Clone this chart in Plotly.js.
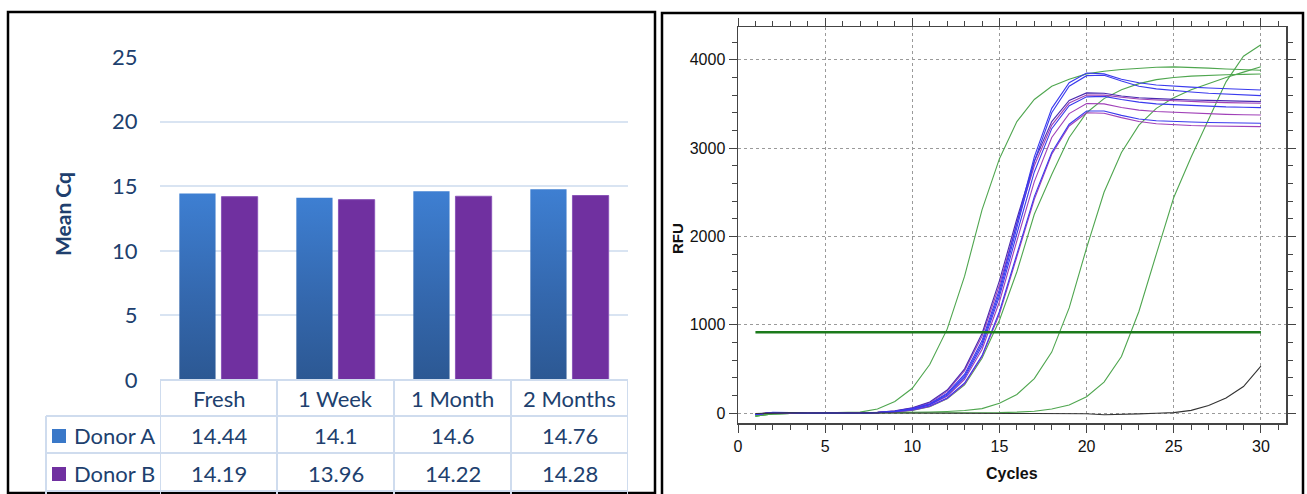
<!DOCTYPE html>
<html>
<head>
<meta charset="utf-8">
<script src="https://cdn.plot.ly/plotly-3.0.1.min.js"></script>
<style>
  html, body { margin:0; padding:0; background:#fff; }
  #chart { width:1307px; height:494px; }
</style>
</head>
<body>
<div id="chart"></div>
<script>
// ---------------- Left chart data ----------------
const categories = ['Fresh', '1 Week', '1 Month', '2 Months'];
const donorA = [14.44, 14.1, 14.6, 14.76];
const donorB = [14.19, 13.96, 14.22, 14.28];
const seriesNames = ['Donor A', 'Donor B'];

// ---------------- Right chart data (RFU vs cycles) ----------------
const cycles = [1,2,3,4,5,6,7,8,9,10,11,12,13,14,15,16,17,18,19,20,21,22,23,24,25,26,27,28,29,30];
const curveP1 = [-15,5,3,-3,2,0,-2,8,25,60,125,260,500,900,1500,2200,2850,3300,3540,3625,3620,3590,3570,3560,3550,3545,3540,3535,3530,3526];
const curveP2 = [-12,4,2,-2,3,1,-2,7,22,55,115,245,480,870,1450,2150,2800,3260,3510,3600,3600,3575,3555,3545,3535,3525,3520,3515,3510,3507];
const curveB1 = [-18,6,4,-4,1,0,-4,6,20,50,105,225,440,820,1400,2150,2900,3450,3740,3850,3840,3780,3740,3715,3700,3690,3680,3670,3665,3658];
const curveB2 = [-16,5,4,-3,2,-1,-3,5,18,45,100,215,420,790,1360,2100,2850,3400,3700,3820,3825,3760,3700,3670,3650,3635,3620,3610,3600,3594];
const curveB3 = [-14,6,3,-2,1,0,-3,5,17,42,95,200,400,760,1320,2030,2730,3220,3480,3580,3585,3550,3520,3500,3490,3480,3472,3466,3462,3458];
const curveP3 = [-13,4,2,-3,2,0,-2,5,16,40,90,190,380,720,1260,1950,2620,3120,3390,3505,3500,3460,3430,3415,3405,3395,3388,3382,3378,3375];
const curveB4 = [-17,7,4,-4,2,-1,-3,4,14,35,80,170,340,650,1150,1800,2450,2950,3270,3420,3420,3370,3330,3310,3300,3295,3290,3286,3283,3281];
const curveP4 = [-15,5,3,-3,1,0,-2,4,13,33,75,165,330,640,1120,1780,2420,2930,3250,3400,3395,3345,3300,3275,3262,3255,3250,3247,3245,3243];
const curveG1 = [-35,-10,-5,0,2,3,10,45,130,280,550,950,1550,2300,2880,3300,3550,3700,3780,3840,3870,3890,3905,3915,3920,3915,3905,3895,3888,3882];
const curveG2 = [-35,-10,-5,0,1,2,3,5,12,30,70,160,320,620,1050,1600,2250,2700,3120,3400,3560,3660,3730,3775,3800,3815,3825,3830,3835,3838];
const curveG3 = [-35,-10,-5,0,0,1,2,3,5,8,12,18,28,50,110,210,390,690,1190,1870,2500,2950,3260,3450,3570,3660,3730,3800,3860,3920];
const curveG4 = [-30,-8,-4,0,0,0,1,1,2,2,3,3,4,4,5,10,20,45,90,185,350,640,1150,1800,2440,2900,3330,3750,4040,4170];
const curveNTC = [-5,0,2,0,-2,0,1,0,0,-2,-3,-2,-4,-5,-8,-6,-5,-5,-6,-8,-20,-18,-10,-3,5,30,85,170,300,530];
const threshold = 915;

// ---------------- helpers ----------------
const W = 1307, H = 494;
const px = v => v / W;
const py = v => 1 - v / H;

const navy = '#203F6E';
const blueA = '#3A78C8';
const purpleB = '#7030A0';
const tableLine = '#CFDCEE';
const leftFont = {family: 'Lato, "Open Sans", sans-serif', size: 22, color: navy};
const rightFont = {family: '"Liberation Sans", Arial, sans-serif', size: 16, color: '#111'};

const traces = [];
// bars
traces.push({type: 'bar', x: categories, y: donorA, name: seriesNames[0], xaxis: 'x', yaxis: 'y',
  marker: {color: blueA}, hoverinfo: 'skip'});
traces.push({type: 'bar', x: categories, y: donorB, name: seriesNames[1], xaxis: 'x', yaxis: 'y',
  marker: {color: purpleB, line: {color: '#8A55B8', width: 1}}, hoverinfo: 'skip'});

// amplification curves
const greenC = '#4FA64F';
const blueC = '#3A3AEE';
const purpleC = '#A040B8';
const deepC = '#4A2AB0';
const curveDefs = [
  [curveG1, greenC], [curveG2, greenC], [curveG3, greenC], [curveG4, greenC],
  [curveP4, purpleC], [curveB4, blueC], [curveP3, purpleC], [curveB3, blueC],
  [curveP2, purpleC], [curveP1, deepC], [curveB2, blueC], [curveB1, blueC],
  [curveNTC, '#333333']
];
curveDefs.forEach(([ys, c]) => {
  traces.push({type: 'scatter', mode: 'lines', x: cycles, y: ys, xaxis: 'x2', yaxis: 'y2',
    line: {color: c, width: 1.1}, hoverinfo: 'skip'});
});
traces.push({type: 'scatter', mode: 'lines', x: [cycles[0], cycles[cycles.length - 1]],
  y: [threshold, threshold], xaxis: 'x2', yaxis: 'y2',
  line: {color: '#1B7A1B', width: 2.5}, hoverinfo: 'skip'});

// ---------------- shapes ----------------
const shapes = [];
// frames
shapes.push({type: 'rect', xref: 'paper', yref: 'paper', x0: px(8), x1: px(655), y0: py(493), y1: py(12),
  line: {color: '#000', width: 2.5}});
shapes.push({type: 'rect', xref: 'paper', yref: 'paper', x0: px(662), x1: px(1303), y0: -0.05, y1: py(13),
  line: {color: '#000', width: 2.5}});
// table horizontal lines
shapes.push({type: 'line', xref: 'paper', yref: 'paper', x0: px(160), x1: px(628), y0: py(380), y1: py(380), line: {color: tableLine, width: 2}});
[416, 453, 491].forEach(yy => {
  shapes.push({type: 'line', xref: 'paper', yref: 'paper', x0: px(46), x1: px(628), y0: py(yy), y1: py(yy), line: {color: tableLine, width: 2}});
});
// table vertical lines at category boundaries
for (let i = 0; i <= categories.length; i++) {
  shapes.push({type: 'line', xref: 'x', yref: 'paper', x0: i - 0.5, x1: i - 0.5, y0: py(380), y1: py(494), line: {color: tableLine, width: 2}});
}
shapes.push({type: 'line', xref: 'paper', yref: 'paper', x0: px(46), x1: px(46), y0: py(416), y1: py(494), line: {color: tableLine, width: 2}});
// legend keys
shapes.push({type: 'rect', xref: 'paper', yref: 'paper', x0: px(52), x1: px(66), y0: py(443), y1: py(429), fillcolor: blueA, line: {width: 0}});
shapes.push({type: 'rect', xref: 'paper', yref: 'paper', x0: px(52), x1: px(66), y0: py(481), y1: py(467), fillcolor: purpleB, line: {width: 0}});

// ---------------- annotations ----------------
const annotations = [];
categories.forEach((c, i) => {
  annotations.push({xref: 'x', yref: 'paper', x: c, y: py(398), text: c, showarrow: false, font: leftFont, xanchor: 'center', yanchor: 'middle'});
  annotations.push({xref: 'x', yref: 'paper', x: c, y: py(435), text: String(donorA[i]), showarrow: false, font: leftFont, xanchor: 'center', yanchor: 'middle'});
  annotations.push({xref: 'x', yref: 'paper', x: c, y: py(473), text: String(donorB[i]), showarrow: false, font: leftFont, xanchor: 'center', yanchor: 'middle'});
});
annotations.push({xref: 'paper', yref: 'paper', x: px(72), y: py(435), text: seriesNames[0], showarrow: false, font: leftFont, xanchor: 'left', yanchor: 'middle'});
annotations.push({xref: 'paper', yref: 'paper', x: px(72), y: py(473), text: seriesNames[1], showarrow: false, font: leftFont, xanchor: 'left', yanchor: 'middle'});
annotations.push({xref: 'paper', yref: 'paper', x: px(62), y: py(214), text: '<b>Mean Cq</b>', textangle: -90, showarrow: false,
  font: {family: 'Lato, "Open Sans", sans-serif', size: 21, color: navy}, xanchor: 'center', yanchor: 'middle'});
annotations.push({xref: 'paper', yref: 'paper', x: px(677), y: py(239), text: '<b>RFU</b>', textangle: -90, showarrow: false,
  font: {family: '"Liberation Sans", Arial, sans-serif', size: 15, color: '#111'}, xanchor: 'center', yanchor: 'middle'});
annotations.push({xref: 'paper', yref: 'paper', x: px(1012), y: py(473), text: '<b>Cycles</b>', showarrow: false,
  font: {family: '"Liberation Sans", Arial, sans-serif', size: 16, color: '#111'}, xanchor: 'center', yanchor: 'middle'});

const layout = {
  width: W, height: H,
  margin: {l: 0, r: 0, t: 0, b: 0},
  paper_bgcolor: '#fff', plot_bgcolor: 'rgba(0,0,0,0)',
  showlegend: false,
  barmode: 'group', bargap: 0.28, bargroupgap: 0.14,
  xaxis: {domain: [px(160), px(628)], type: 'category', range: [-0.5, categories.length - 0.5],
    showticklabels: false, showgrid: false, zeroline: false, showline: false, ticks: '', fixedrange: true},
  yaxis: {domain: [py(380), py(57)], range: [0, 25], tickmode: 'linear', tick0: 0, dtick: 5,
    ticks: 'outside', ticklen: 17, tickcolor: 'rgba(0,0,0,0)',
    showgrid: true, gridcolor: '#D9E4F2', gridwidth: 2, zeroline: false, showline: false,
    tickfont: leftFont, fixedrange: true},
  xaxis2: {domain: [px(738), px(1286)], anchor: 'y2', range: [0, 31.44],
    tickmode: 'linear', tick0: 0, dtick: 5, ticks: 'outside', ticklen: 8, tickcolor: '#444', tickwidth: 1,
    minor: {tick0: 0, dtick: 1, ticks: 'outside', ticklen: 5, tickcolor: '#444', showgrid: false},
    showgrid: true, gridcolor: '#9a9a9a', griddash: 'dot', gridwidth: 1,
    showline: true, linecolor: '#444', linewidth: 1.5, mirror: 'ticks', zeroline: false,
    tickfont: rightFont, fixedrange: true},
  yaxis2: {domain: [py(423), py(27)], anchor: 'x2', range: [-113, 4371],
    tickmode: 'linear', tick0: 0, dtick: 1000, ticks: 'outside', ticklen: 8, tickcolor: '#444', tickwidth: 1,
    minor: {tick0: 0, dtick: 200, ticks: 'outside', ticklen: 5, tickcolor: '#444', showgrid: false},
    showgrid: true, gridcolor: '#9a9a9a', griddash: 'dot', gridwidth: 1,
    showline: true, linecolor: '#444', linewidth: 1.5, mirror: 'ticks', zeroline: false,
    tickfont: rightFont, fixedrange: true},
  shapes: shapes,
  annotations: annotations
};

function applyGradient(gd) {
  const svg = gd.querySelector('svg.main-svg');
  if (!svg) return;
  let defs = svg.querySelector('defs');
  if (!defs) { defs = document.createElementNS('http://www.w3.org/2000/svg', 'defs'); svg.insertBefore(defs, svg.firstChild); }
  if (!svg.querySelector('#gradDonorA')) {
    const lg = document.createElementNS('http://www.w3.org/2000/svg', 'linearGradient');
    lg.setAttribute('id', 'gradDonorA');
    lg.setAttribute('x1', '0'); lg.setAttribute('y1', '0'); lg.setAttribute('x2', '0'); lg.setAttribute('y2', '1');
    [['0%', '#3E7FD2'], ['55%', '#3468AE'], ['100%', '#2C5893']].forEach(([o, c]) => {
      const s = document.createElementNS('http://www.w3.org/2000/svg', 'stop');
      s.setAttribute('offset', o); s.setAttribute('stop-color', c); lg.appendChild(s);
    });
    defs.appendChild(lg);
  }
  const barTraces = gd.querySelectorAll('.barlayer .trace');
  if (barTraces.length) {
    barTraces[0].querySelectorAll('path').forEach(p => { p.style.fill = 'url(#gradDonorA)'; });
  }
}

const gd = document.getElementById('chart');
Plotly.newPlot(gd, traces, layout, {displayModeBar: false, staticPlot: true}).then(() => {
  applyGradient(gd);
  gd.on && gd.on('plotly_afterplot', () => applyGradient(gd));
});
</script>
</body>
</html>
